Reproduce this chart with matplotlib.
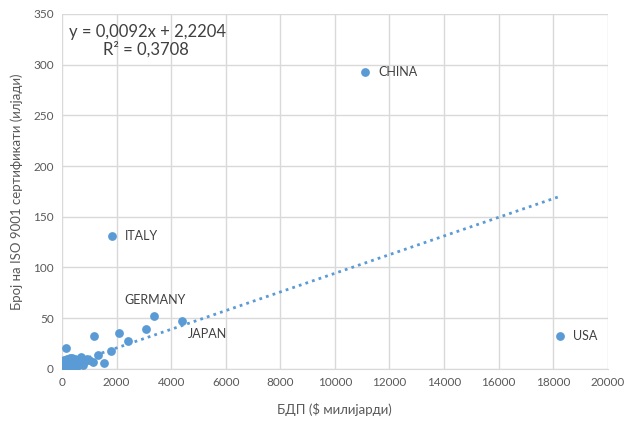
import matplotlib
matplotlib.use("Agg")
import matplotlib.pyplot as plt
import numpy as np

plt.rcParams['font.family'] = ['Lato', 'DejaVu Sans']

# Data (GDP in $ billions, ISO 9001 certificates in thousands)
labeled_names = ["CHINA", "USA", "ITALY", "GERMANY", "JAPAN"]
labeled_x = [11100, 18250, 1830, 3370, 4400]
labeled_y = [293, 32, 131, 52, 47]

other_x = [3080, 2090, 2420, 1170, 1800, 1320, 1540, 150,
           1000, 1150, 850, 700, 620, 560, 480, 420, 380, 340, 300, 260,
           230, 200, 180, 160, 140, 120, 100, 90, 80, 70, 60, 50, 40, 30,
           25, 20, 15, 10, 520, 450, 350, 280, 240, 310, 900, 760, 660, 580]
other_y = [39, 35.5, 27.5, 32.5, 17.5, 13.5, 6, 20.5,
           9, 7, 8, 12, 6, 3, 10, 4, 11, 5, 9, 2,
           7, 10, 4, 8, 1.5, 6, 3, 9, 5, 2, 7, 1, 4, 3,
           1, 6, 2, 1, 1.5, 8, 2, 11, 5, 1, 10, 4, 9, 7]

fit_slope = 0.0092
fit_intercept = 2.2204
r_squared = 0.3708

all_x = np.array(labeled_x + other_x)

fig = plt.figure(figsize=(6.33, 4.23), dpi=100)
ax = fig.add_axes([0.098, 0.128, 0.862, 0.839])

color = '#5B9BD5'
ax.scatter(other_x, other_y, s=40, color=color, zorder=3, linewidths=0)
ax.scatter(labeled_x, labeled_y, s=40, color=color, zorder=3, linewidths=0)

xs = np.array([all_x.min(), all_x.max()])
ax.plot(xs, fit_slope * xs + fit_intercept, linestyle=(0, (1, 1.5)), color=color,
        linewidth=2, zorder=2)

offsets = {"CHINA": (10, 0),
           "USA": (9.5, 0),
           "ITALY": (9.5, 0),
           "GERMANY": (-21, 11.5),
           "JAPAN": (4, -9)}
for n, x, y in zip(labeled_names, labeled_x, labeled_y):
    dx, dy = offsets[n]
    ax.annotate(n, (x, y), xytext=(dx, dy), textcoords='offset points',
                ha='left', va='center', fontsize=9, color='#404040')

ax.text(0.012, 0.972, "y = 0,0092x + 2,2204\n        R² = 0,3708",
        transform=ax.transAxes, ha='left', va='top', fontsize=12,
        color='#404040', linespacing=1.1)

ax.set_xlim(0, 20000)
ax.set_ylim(0, 350)
ax.set_xticks(np.arange(0, 20001, 2000))
ax.set_yticks(np.arange(0, 351, 50))
ax.grid(True, color='#D9D9D9', linewidth=1)
ax.set_axisbelow(True)
for s in ['top', 'right', 'left']:
    ax.spines[s].set_visible(False)
ax.spines['bottom'].set_color('#D9D9D9')
ax.tick_params(length=0, labelsize=8.5, colors='#595959', pad=6)

ax.set_xlabel("БДП ($ милијарди)", fontsize=9.5, color='#595959', labelpad=11)
ax.set_ylabel("Број на ISO 9001 сертификати (илјади)", fontsize=9.5,
              color='#595959', labelpad=7)

fig.savefig("out.png", dpi=100)
